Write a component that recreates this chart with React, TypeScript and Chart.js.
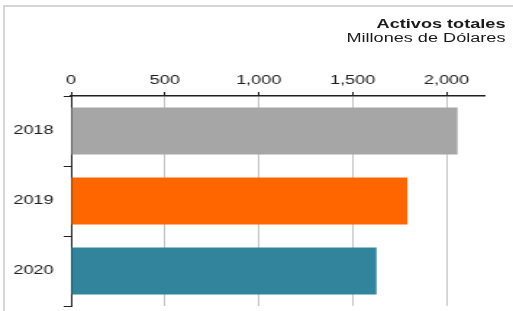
import React, { useEffect, useRef } from 'react';
import { Chart, registerables } from 'chart.js';

Chart.register(...registerables);

const categories = ['2018', '2019', '2020'];
const values = [2059, 1792, 1627];
const barColors = ['#a6a6a6', '#ff6600', '#31849b'];
const xMin = 0;
const xMax = 2200;
const xTickValues = [0, 500, 1000, 1500, 2000];
const titleText = 'Activos totales';
const subtitleText = 'Millones de Dólares';

const FONT = '"Liberation Sans", Arial, sans-serif';
const CW = 354;
const CH = 311;
const STRETCH = 513 / CW;

export default function App() {
  const canvasRef = useRef<HTMLCanvasElement | null>(null);

  useEffect(() => {
    if (!canvasRef.current) return;
    const chart = new Chart(canvasRef.current, {
      type: 'bar',
      data: {
        labels: categories,
        datasets: [
          {
            data: values,
            backgroundColor: barColors,
            borderWidth: 0,
            barPercentage: 0.671,
            categoryPercentage: 1,
          },
        ],
      },
      options: {
        indexAxis: 'y',
        animation: false,
        responsive: false,
        devicePixelRatio: 1,
        layout: { padding: { left: 0, right: 20, top: 0, bottom: 5 } },
        plugins: {
          legend: { display: false },
          tooltip: { enabled: false },
          title: { display: false },
        },
        scales: {
          x: {
            type: 'linear',
            position: 'top',
            min: xMin,
            max: xMax,
            afterBuildTicks: (s: any) => {
              s.ticks = xTickValues.map((v) => ({ value: v }));
            },
            ticks: {
              padding: 4,
              color: '#222',
              font: { family: FONT, size: 12.5 },
              callback: (v: any) => Number(v).toLocaleString('en-US'),
            },
            grid: {
              color: '#c4c4c4',
              lineWidth: 1,
              tickColor: '#222',
              tickLength: 4,
            },
            border: { color: '#222', width: 1.5 },
            afterFit: (s: any) => {
              s.height = 96;
              s.paddingLeft = 0;
              s.paddingRight = 0;
            },
          },
          y: {
            type: 'category',
            ticks: {
              padding: 7,
              color: '#222',
              font: { family: FONT, size: 12.5 },
            },
            grid: {
              offset: true,
              drawOnChartArea: false,
              tickColor: '#222',
              tickLength: 5,
              lineWidth: 1,
            },
            border: { color: '#222', width: 1 },
            afterFit: (s: any) => {
              s.width = 49;
              s.paddingTop = 0;
              s.paddingBottom = 0;
            },
          },
        },
      },
    });
    return () => chart.destroy();
  }, []);

  return (
    <div
      style={{
        position: 'fixed',
        left: 0,
        top: 0,
        width: 513,
        height: 311,
        overflow: 'hidden',
        background: '#fff',
      }}
    >
      <div
        style={{
          position: 'absolute',
          left: 3,
          top: 5,
          width: 700,
          height: 500,
          borderTop: '2px solid #d6d6d6',
          borderLeft: '2px solid #d6d6d6',
        }}
      />
      <div
        style={{
          position: 'absolute',
          left: 0,
          top: 0,
          width: CW,
          height: CH,
          transform: `scaleX(${STRETCH})`,
          transformOrigin: '0 0',
        }}
      >
        <canvas
          ref={canvasRef}
          width={CW}
          height={CH}
          style={{ display: 'block', width: CW, height: CH }}
        />
        <div
          style={{
            position: 'absolute',
            right: 5.2,
            top: 17.2,
            fontFamily: FONT,
            fontSize: 12.5,
            fontWeight: 'bold',
            lineHeight: '15px',
            color: '#1a1a1a',
            whiteSpace: 'nowrap',
            textAlign: 'right',
          }}
        >
          {titleText}
        </div>
        <div
          style={{
            position: 'absolute',
            right: 5.2,
            top: 31.2,
            fontFamily: FONT,
            fontSize: 12.5,
            lineHeight: '15px',
            color: '#1a1a1a',
            whiteSpace: 'nowrap',
            textAlign: 'right',
          }}
        >
          {subtitleText}
        </div>
      </div>
    </div>
  );
}
